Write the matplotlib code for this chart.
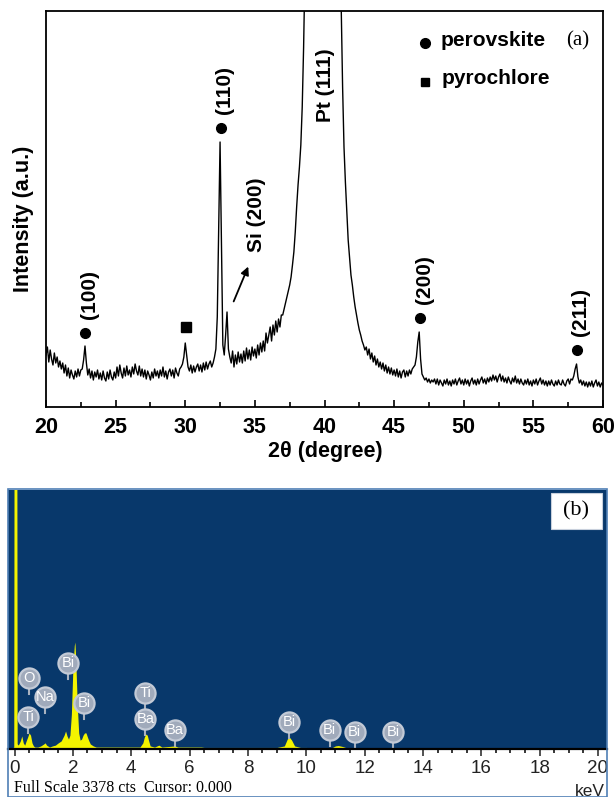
import numpy as np
import matplotlib.pyplot as plt
from matplotlib.ticker import MultipleLocator
from matplotlib.patches import Rectangle

# ---- (a) XRD pattern, 2theta sampled every 0.1 deg from 20 to 60 ----
two_theta = np.round(np.arange(20.0, 60.05, 0.1), 1)
intensity = [
    52, 60, 45, 57, 48, 42, 54, 44, 50, 40,
    46, 38, 44, 34, 42, 31, 39, 29, 37, 32,
    28, 36, 30, 38, 31, 37, 38, 47, 61, 44,
    32, 38, 29, 36, 27, 35, 30, 37, 28, 34,
    27, 36, 29, 26, 35, 28, 37, 30, 27, 35,
    29, 40, 31, 42, 34, 29, 39, 31, 41, 32,
    37, 30, 40, 33, 43, 36, 32, 41, 31, 38,
    30, 37, 28, 36, 32, 27, 35, 29, 38, 31,
    36, 29, 37, 31, 40, 30, 36, 28, 35, 38,
    31, 37, 29, 39, 34, 31, 38, 40, 43, 50,
    64, 52, 40, 36, 42, 34, 41, 35, 40, 43,
    36, 42, 35, 44, 37, 45, 38, 43, 46, 40,
    44, 50, 58, 90, 180, 265, 160, 62, 52, 72,
    95, 58, 50, 44, 56, 40, 52, 43, 55, 45,
    53, 44, 56, 46, 59, 48, 57, 47, 60, 51,
    58, 49, 62, 52, 64, 55, 66, 56, 74, 64,
    72, 80, 66, 82, 72, 86, 75, 88, 80, 92,
    92, 98, 104, 110, 116, 122, 130, 142, 155, 175,
    200, 222, 240, 262, 300, 360, 440, 520, 580, 620,
    660, 700, 720, 740, 760, 770, 780, 780, 780, 780,
    780, 780, 780, 770, 760, 740, 720, 690, 650, 600,
    540, 470, 400, 320, 260, 225, 195, 167, 150, 132,
    122, 110, 100, 92, 84, 77, 72, 66, 62, 57,
    60, 52, 58, 48, 54, 45, 51, 42, 48, 40,
    45, 38, 44, 36, 42, 34, 40, 33, 39, 32,
    37, 31, 38, 30, 36, 29, 35, 37, 30, 36,
    31, 37, 33, 38, 40, 42, 50, 65, 75, 48,
    33, 30, 27, 29, 25, 28, 24, 27, 25, 28,
    23, 28, 22, 27, 24, 21, 27, 23, 28, 22,
    26, 21, 27, 23, 28, 22, 26, 29, 23, 27,
    22, 28, 23, 27, 21, 26, 29, 23, 27, 22,
    28, 23, 27, 30, 24, 28, 23, 29, 25, 30,
    26, 32, 27, 31, 25, 30, 33, 26, 31, 25,
    29, 24, 30, 26, 23, 29, 25, 31, 24, 28,
    23, 28, 24, 22, 27, 23, 28, 22, 26, 21,
    27, 23, 28, 22, 26, 29, 23, 27, 22, 26,
    21, 26, 22, 27, 23, 21, 26, 22, 27, 23,
    22, 27, 23, 21, 26, 28, 23, 28, 27, 31,
    38, 43, 30, 24, 27, 22, 26, 21, 25, 20,
    25, 21, 26, 20, 24, 27, 21, 25, 20, 24,
    22,
]

# perovskite reflections: (label, 2theta of marker, marker height)
perovskite_peaks = [("(100)", 22.8, 74), ("(110)", 32.55, 279),
                    ("(200)", 46.85, 89), ("(211)", 58.1, 57)]
pyrochlore_peaks = [(30.05, 80)]

# ---- (b) EDS spectrum ----
eds_kev = [0.00, 0.03, 0.04, 0.06, 0.07, 0.10, 0.15, 0.20, 0.25, 0.30,
           0.35, 0.40, 0.45, 0.50, 0.55, 0.60, 0.65, 0.70, 0.80, 0.90,
           1.00, 1.05, 1.10, 1.20, 1.30, 1.40, 1.50, 1.60, 1.70, 1.75,
           1.80, 1.85, 1.90, 1.95, 2.00, 2.05, 2.07, 2.10, 2.15, 2.20,
           2.25, 2.30, 2.35, 2.40, 2.45, 2.50, 2.55, 2.60, 2.70, 2.80,
           3.00, 3.50, 4.00, 4.30, 4.40, 4.45, 4.50, 4.55, 4.60, 4.65,
           4.80, 4.95, 5.05, 5.50, 5.60, 6.00, 6.40, 6.50, 7.00, 8.00,
           8.50, 9.00, 9.25, 9.35, 9.42, 9.50, 9.60, 9.80, 10.00, 10.50,
           10.90, 11.00, 11.10, 11.25, 11.40, 12.00, 12.90, 13.00, 13.10, 13.20]
eds_counts = [0, 0, 4000, 4000, 0, 40, 65, 105, 170, 80,
              50, 105, 155, 210, 180, 80, 40, 25, 25, 40,
              65, 80, 50, 25, 40, 50, 80, 105, 180, 235,
              170, 130, 180, 455, 1040, 1350, 1395, 1170, 585, 210,
              115, 130, 180, 210, 210, 155, 105, 65, 40, 25,
              25, 25, 25, 25, 80, 155, 195, 180, 105, 40,
              25, 50, 25, 40, 25, 25, 25, 20, 20, 20,
              20, 20, 40, 130, 155, 115, 40, 20, 20, 13,
              20, 40, 45, 32, 13, 13, 13, 20, 13, 0]
full_scale = 3378

# element tags: (symbol, energy keV, tag height in counts)
eds_tags = [("O", 0.51, 926), ("Ti", 0.47, 417), ("Na", 1.04, 678),
            ("Bi", 1.84, 1121), ("Bi", 2.39, 600), ("Ti", 4.49, 730),
            ("Ba", 4.49, 391), ("Ba", 5.50, 248), ("Bi", 9.41, 352),
            ("Bi", 10.80, 248), ("Bi", 11.66, 222), ("Bi", 12.97, 222)]

W, H = 614, 797
SANS = "Liberation Sans"
SERIF = "Liberation Serif"
plt.rcParams["font.family"] = SANS

fig = plt.figure(figsize=(W / 100, H / 100), dpi=100)
fig.patch.set_facecolor("white")


def fx(px):
    return px / W


def fy(py):
    return 1 - py / H


# ---------------- panel (a) ----------------
ax1 = fig.add_axes([fx(46), fy(407), fx(603) - fx(46), fy(11) - fy(407)])
ax1.plot(two_theta, intensity, color="black", lw=1.0)
ax1.set_xlim(20, 60)
ax1.set_ylim(0, 396)
ax1.set_yticks([])
ax1.xaxis.set_major_locator(MultipleLocator(5))
ax1.xaxis.set_minor_locator(MultipleLocator(2.5))
ax1.tick_params(axis="x", which="major", direction="in", length=5, width=1.2,
                pad=7, labelsize=15.5)
ax1.tick_params(axis="x", which="minor", direction="in", length=3.5, width=1.2)
for lab in ax1.get_xticklabels():
    lab.set_fontweight("bold")
for sp in ax1.spines.values():
    sp.set_linewidth(1.3)

for lab, x, y in perovskite_peaks:
    ax1.plot(x, y, "o", color="black", ms=7)
    ax1.text(x + 0.3, y + 14, lab, rotation=90, ha="center", va="bottom",
             fontsize=15, fontweight="bold")
for x, y in pyrochlore_peaks:
    ax1.plot(x, y, "s", color="black", ms=6.5)

ax1.text(35.15, 155, "Si (200)", rotation=90, ha="center", va="bottom",
         fontsize=15, fontweight="bold")
ax1.annotate("", xy=(34.6, 143), xytext=(33.4, 103),
             arrowprops=dict(arrowstyle="-|>", color="black", lw=1.3,
                             mutation_scale=12))
ax1.text(40.1, 285, "Pt (111)", rotation=90, ha="center", va="bottom",
         fontsize=15, fontweight="bold")

ax1.plot(47.25, 364, "o", color="black", ms=7)
ax1.text(48.35, 366, "perovskite", ha="left", va="center", fontsize=15,
         fontweight="bold")
ax1.plot(47.25, 325, "s", color="black", ms=6)
ax1.text(48.4, 328, "pyrochlore", ha="left", va="center", fontsize=15,
         fontweight="bold")
ax1.text(58.2, 366, "(a)", ha="center", va="center", fontsize=15,
         family=SERIF)

fig.text(fx(24), fy(219), "Intensity (a.u.)", rotation=90, ha="center",
         va="center", fontsize=15.5, fontweight="bold")
fig.text(fx(325), fy(452), "2θ (degree)", ha="center", va="center",
         fontsize=15.5, fontweight="bold")

# ---------------- panel (b) ----------------
kev_per_px = 20 / (598 - 14.5)
ax2 = fig.add_axes([fx(8), fy(749), fx(607) - fx(8), fy(490) - fy(749)])
ax2.set_facecolor("#08386b")
ax2.fill_between(eds_kev, eds_counts, 0, color="#f4f400", lw=0)
ax2.plot(eds_kev[:6], eds_counts[:6], color="#f4f400", lw=1.6)
ax2.set_xlim((8 - 14.5) * kev_per_px, (607 - 14.5) * kev_per_px)
ax2.set_ylim(0, full_scale)
ax2.set_yticks([])
ax2.xaxis.set_major_locator(MultipleLocator(2))
ax2.xaxis.set_minor_locator(MultipleLocator(0.5))
ax2.tick_params(axis="x", which="major", direction="out", length=5, width=1.1,
                pad=3, labelsize=13.5, colors="#222222")
ax2.tick_params(axis="x", which="minor", direction="out", length=3, width=1.1)
for side in ("top", "left", "right"):
    ax2.spines[side].set_visible(False)
ax2.spines["bottom"].set_linewidth(1.6)

for sym, e, h in eds_tags:
    ax2.plot([e, e], [h - 210, h - 110], color="#a9b2c0", lw=1.5)
    ax2.plot(e, h, "o", ms=14.5, mfc="#a0aabb", mec="#c3cad6", mew=1.6)
    ax2.text(e, h, sym, ha="center", va="center", color="white", fontsize=10.5)

ax2.add_patch(Rectangle((0.907, 0.85), 0.085, 0.14, transform=ax2.transAxes,
                        facecolor="white", edgecolor="#c8d0dc", lw=0.8))
ax2.text(0.949, 0.92, "(b)", transform=ax2.transAxes, ha="center",
         va="center", fontsize=16, family=SERIF)

fig.text(fx(14), fy(788), "Full Scale 3378 cts  Cursor: 0.000", ha="left",
         va="center", fontsize=11.5, family=SERIF)
fig.text(fx(605), fy(791), "keV", ha="right", va="center", fontsize=12.5,
         color="#222222")

fig.patches.append(Rectangle((fx(8), 0), fx(607) - fx(8), fy(489),
                             transform=fig.transFigure, fill=False,
                             edgecolor="#4f7fb5", lw=1.2))

fig.savefig("out.png", dpi=100)
